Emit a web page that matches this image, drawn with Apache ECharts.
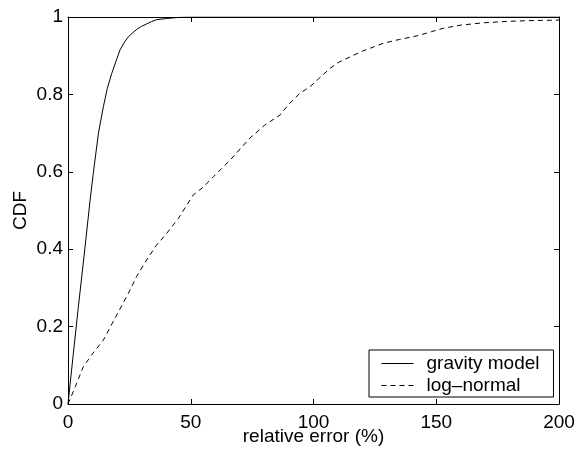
<!DOCTYPE html>
<html><head><meta charset="utf-8">
<script src="https://cdn.jsdelivr.net/npm/echarts@6/dist/echarts.min.js"></script>
<style>html,body{margin:0;padding:0;background:#fff}#c{width:582px;height:450px}</style>
</head><body><div id="c"></div>
<script>
const xTicks = [0, 50, 100, 150, 200];
const yTicks = [0, 0.2, 0.4, 0.6, 0.8, 1];
const gravityX = [0, 2, 4.2, 6.5, 9, 10.3, 12.4, 14.4, 16, 17.8, 19.5, 21.2, 23, 24.6, 26.5, 28, 30, 32, 34, 36, 40, 45, 50, 200];
const gravityY = [0, 0.12, 0.25, 0.38, 0.527, 0.596, 0.70, 0.768, 0.815, 0.854, 0.885, 0.915, 0.935, 0.949, 0.96, 0.968, 0.976, 0.982, 0.988, 0.993, 0.996, 0.999, 1.0, 1.0];
const lognormX = [0, 3, 6.2, 10, 14.4, 19, 24.6, 28, 32, 36, 40.2, 45, 49.7, 51, 55, 59.2, 66, 72.8, 74.1, 80, 86.4, 90, 94.5, 98.6, 102, 106.7, 110, 114.9, 120, 128.4, 135, 142, 148, 152.9, 160, 169.2, 180, 190, 200];
const lognormY = [0, 0.045, 0.096, 0.13, 0.165, 0.22, 0.286, 0.33, 0.372, 0.41, 0.441, 0.48, 0.527, 0.54, 0.56, 0.587, 0.63, 0.678, 0.687, 0.72, 0.747, 0.775, 0.803, 0.82, 0.84, 0.867, 0.882, 0.897, 0.912, 0.932, 0.942, 0.951, 0.962, 0.971, 0.979, 0.985, 0.989, 0.991, 0.992];

const gravity = gravityX.map((x, i) => [x, gravityY[i]]);
const lognorm = lognormX.map((x, i) => [x, lognormY[i]]);

const font = 'Liberation Sans, Arial, Helvetica, sans-serif';
const mkLine = () => ({show: true, onZero: false, lineStyle: {color: '#000', width: 1}});
const mkTick = () => ({show: true, inside: true, length: 5, lineStyle: {color: '#000', width: 1}});

const chart = echarts.init(document.getElementById('c'));
chart.setOption({
  animation: false,
  backgroundColor: '#fff',
  grid: {left: 68, right: 23, top: 17, bottom: 46, containLabel: false, outerBoundsMode: 'none'},
  xAxis: [{
    type: 'value', min: 0, max: 200, interval: 50, position: 'bottom',
    name: 'relative error (%)', nameLocation: 'middle', nameGap: 23, nameMoveOverlap: false,
    nameTextStyle: {color: '#000', fontSize: 19, fontFamily: font},
    axisLine: mkLine(), axisTick: mkTick(), splitLine: {show: false},
    axisLabel: {color: '#000', fontSize: 19, fontFamily: font, margin: 9,
      formatter: v => xTicks.includes(v) ? String(v) : ''}
  }, {
    type: 'value', min: 0, max: 200, interval: 50, position: 'top',
    axisLine: mkLine(), axisTick: mkTick(), splitLine: {show: false}, axisLabel: {show: false}
  }],
  yAxis: [{
    type: 'value', min: 0, max: 1, interval: 0.2, position: 'left',
    name: 'CDF', nameLocation: 'middle', nameGap: 38, nameMoveOverlap: false,
    nameTextStyle: {color: '#000', fontSize: 19, fontFamily: font},
    axisLine: mkLine(), axisTick: mkTick(), splitLine: {show: false},
    axisLabel: {color: '#000', fontSize: 19, fontFamily: font, margin: 5,
      formatter: v => {
        const t = yTicks.find(y => Math.abs(y - v) < 1e-9);
        return t === undefined ? '' : String(t);
      }}
  }, {
    type: 'value', min: 0, max: 1, interval: 0.2, position: 'right',
    axisLine: mkLine(), axisTick: mkTick(), splitLine: {show: false}, axisLabel: {show: false}
  }],
  legend: {
    show: true,
    orient: 'vertical', left: 369, top: 350,
    backgroundColor: '#fff', borderColor: '#000', borderWidth: 1, borderRadius: 0,
    padding: [4, 14, 2, 12], itemGap: 3, itemWidth: 32, itemHeight: 20,
    itemStyle: {opacity: 0},
    lineStyle: {width: 1},
    textStyle: {color: '#000', fontSize: 19, fontFamily: font, padding: [0, 0, 0, 8]},
    data: ['gravity model', 'log\u2013normal']
  },
  series: [{
    name: 'gravity model', type: 'line', data: gravity, showSymbol: false, symbol: 'none',
    xAxisIndex: 0, yAxisIndex: 0,
    lineStyle: {color: '#000', width: 1, type: 'solid'}, itemStyle: {color: '#000'}
  }, {
    name: 'log\u2013normal', type: 'line', data: lognorm, showSymbol: false, symbol: 'none',
    xAxisIndex: 0, yAxisIndex: 0,
    lineStyle: {color: '#000', width: 1, type: [5, 4]}, itemStyle: {color: '#000'}
  }]
});
</script></body></html>
